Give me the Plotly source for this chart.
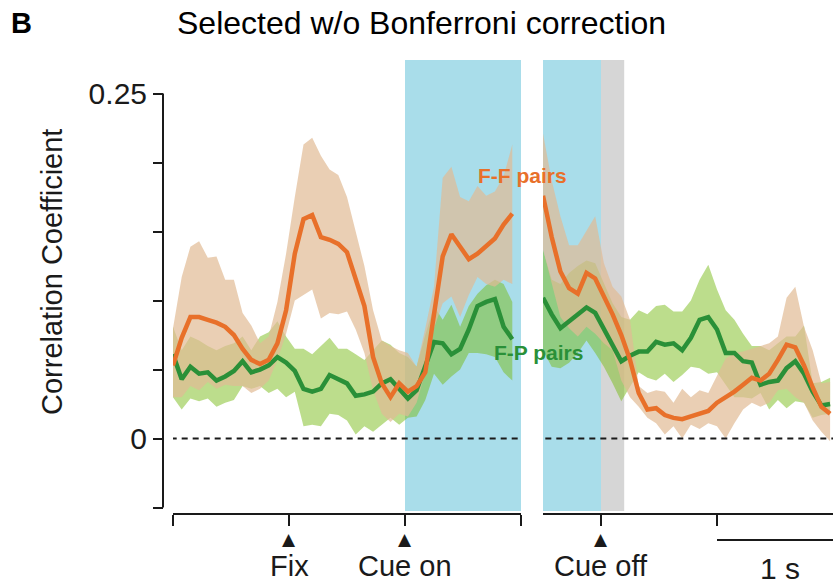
import plotly.graph_objects as go

W, H = 833, 586

# time bins (s) - left panel aligned to cue onset, right panel aligned to cue offset
t_left = [round(-1.0 + 0.0375 * i, 4) for i in range(40)]
t_right = [round(-0.25 + 0.0375 * i, 4) for i in range(34)]

# F-F pairs (orange), left panel
ff_left = [0.053, 0.073, 0.088, 0.088, 0.086, 0.084, 0.081, 0.075, 0.065, 0.057,
           0.054, 0.057, 0.069, 0.093, 0.134, 0.159, 0.162, 0.146, 0.144, 0.141,
           0.135, 0.115, 0.096, 0.059, 0.040, 0.030, 0.040, 0.034, 0.038, 0.048,
           0.091, 0.132, 0.148, 0.139, 0.130, 0.134, 0.139, 0.145, 0.155, 0.163]
ff_left_hi = [0.080, 0.117, 0.139, 0.143, 0.131, 0.132, 0.115, 0.115, 0.091, 0.082,
              0.069, 0.074, 0.099, 0.134, 0.175, 0.213, 0.218, 0.205, 0.195, 0.191,
              0.175, 0.151, 0.125, 0.093, 0.071, 0.067, 0.064, 0.062, 0.052, 0.080,
              0.110, 0.189, 0.197, 0.175, 0.172, 0.183, 0.176, 0.179, 0.190, 0.213]
ff_left_lo = [0.030, 0.030, 0.038, 0.035, 0.041, 0.036, 0.039, 0.038, 0.038, 0.033,
              0.036, 0.042, 0.057, 0.076, 0.100, 0.104, 0.108, 0.087, 0.091, 0.090,
              0.092, 0.079, 0.062, 0.035, 0.018, 0.012, 0.018, 0.016, 0.026, 0.048,
              0.080, 0.098, 0.103, 0.088, 0.104, 0.117, 0.112, 0.110, 0.115, 0.112]

# F-P pairs (green), left panel
fp_left = [0.061, 0.043, 0.052, 0.047, 0.048, 0.042, 0.045, 0.049, 0.056, 0.048,
           0.050, 0.053, 0.059, 0.055, 0.049, 0.036, 0.034, 0.036, 0.046, 0.043,
           0.040, 0.031, 0.032, 0.034, 0.040, 0.043, 0.036, 0.029, 0.035, 0.053,
           0.070, 0.069, 0.061, 0.065, 0.079, 0.096, 0.099, 0.101, 0.081, 0.072]
fp_left_hi = [0.081, 0.064, 0.074, 0.071, 0.067, 0.064, 0.067, 0.069, 0.074, 0.064,
              0.074, 0.077, 0.085, 0.074, 0.065, 0.065, 0.061, 0.067, 0.073, 0.065,
              0.065, 0.061, 0.057, 0.064, 0.071, 0.068, 0.062, 0.059, 0.052, 0.075,
              0.096, 0.086, 0.097, 0.081, 0.096, 0.105, 0.111, 0.115, 0.112, 0.099]
fp_left_lo = [0.030, 0.021, 0.029, 0.027, 0.029, 0.023, 0.026, 0.028, 0.038, 0.036,
              0.038, 0.033, 0.036, 0.030, 0.034, 0.009, 0.010, 0.009, 0.018, 0.017,
              0.013, 0.003, 0.009, 0.005, 0.010, 0.015, 0.010, 0.015, 0.016, 0.028,
              0.047, 0.039, 0.045, 0.050, 0.062, 0.062, 0.061, 0.059, 0.048, 0.042]

# F-F pairs (orange), right panel
ff_right = [0.176, 0.146, 0.121, 0.109, 0.105, 0.120, 0.116, 0.103, 0.090, 0.075,
            0.057, 0.033, 0.021, 0.022, 0.017, 0.015, 0.014, 0.016, 0.018, 0.020,
            0.026, 0.030, 0.034, 0.039, 0.044, 0.042, 0.047, 0.057, 0.068, 0.066,
            0.053, 0.037, 0.023, 0.018]
ff_right_hi = [0.221, 0.187, 0.161, 0.140, 0.140, 0.150, 0.161, 0.127, 0.110, 0.103,
               0.086, 0.038, 0.033, 0.035, 0.034, 0.026, 0.036, 0.030, 0.035, 0.033,
               0.045, 0.058, 0.062, 0.063, 0.065, 0.067, 0.069, 0.074, 0.102, 0.110,
               0.081, 0.064, 0.040, 0.041]
ff_right_lo = [0.137, 0.112, 0.088, 0.080, 0.074, 0.081, 0.076, 0.069, 0.064, 0.042,
               0.030, 0.023, 0.015, 0.011, 0.003, 0.009, 0.000, 0.010, 0.007, 0.011,
               0.009, 0.000, 0.011, 0.021, 0.026, 0.023, 0.026, 0.035, 0.036, 0.030,
               0.026, 0.013, 0.005, -0.002]

# F-P pairs (green), right panel
fp_right = [0.102, 0.090, 0.080, 0.085, 0.091, 0.095, 0.091, 0.079, 0.067, 0.056,
            0.060, 0.063, 0.063, 0.070, 0.068, 0.069, 0.064, 0.073, 0.086, 0.088,
            0.079, 0.062, 0.062, 0.056, 0.055, 0.039, 0.041, 0.042, 0.051, 0.056,
            0.047, 0.034, 0.024, 0.025]
fp_right_hi = [0.137, 0.115, 0.112, 0.120, 0.125, 0.129, 0.127, 0.112, 0.098, 0.088,
               0.086, 0.093, 0.090, 0.096, 0.097, 0.092, 0.092, 0.100, 0.115, 0.126,
               0.108, 0.093, 0.086, 0.076, 0.067, 0.067, 0.064, 0.069, 0.074, 0.074,
               0.082, 0.040, 0.041, 0.044]
fp_right_lo = [0.064, 0.052, 0.051, 0.055, 0.062, 0.071, 0.062, 0.052, 0.040, 0.027,
               0.038, 0.048, 0.044, 0.042, 0.047, 0.041, 0.046, 0.052, 0.051, 0.047,
               0.048, 0.039, 0.030, 0.030, 0.029, 0.033, 0.021, 0.028, 0.022, 0.027,
               0.026, 0.015, 0.017, 0.018]

y_ticks = [-0.05, 0, 0.05, 0.10, 0.15, 0.20, 0.25]
y_ticktext = ["", "0", "", "", "", "", "0.25"]

ORANGE = "#E8702A"
GREEN = "#2A9038"
TAN_FILL = "rgba(225,186,148,0.7)"
GREEN_FILL = "rgba(121,187,25,0.5)"
BLUE = "#A9DDEA"
GREY = "#D6D6D6"
INK = "#1a1a1a"
FONT = "Liberation Sans, Arial, sans-serif"


def px(x):
    return x / W


def py(y):
    return 1 - y / H


def band(x, lo, hi, color, xaxis):
    return go.Scatter(
        x=x + x[::-1], y=hi + lo[::-1], fill="toself", fillcolor=color,
        line=dict(width=0), mode="lines", hoverinfo="skip",
        showlegend=False, xaxis=xaxis, yaxis="y",
    )


def mean_line(x, y, color, xaxis):
    return go.Scatter(
        x=x, y=y, mode="lines", line=dict(color=color, width=4.5),
        showlegend=False, xaxis=xaxis, yaxis="y",
    )


def label(text, x, y, size, color=INK, xref="paper", **kw):
    return dict(text=text, x=x, y=y, xref=xref, yref="paper",
                xanchor="center", yanchor="middle", showarrow=False,
                font=dict(size=size, color=color, **kw))


fig = go.Figure()
for xs, ax, fp_lo, fp_hi, ff_lo, ff_hi, fp, ff in [
    (t_left, "x", fp_left_lo, fp_left_hi, ff_left_lo, ff_left_hi, fp_left, ff_left),
    (t_right, "x2", fp_right_lo, fp_right_hi, ff_right_lo, ff_right_hi, fp_right, ff_right),
]:
    fig.add_trace(band(xs, fp_lo, fp_hi, GREEN_FILL, ax))
    fig.add_trace(band(xs, ff_lo, ff_hi, TAN_FILL, ax))
    fig.add_trace(mean_line(xs, fp, GREEN, ax))
    fig.add_trace(mean_line(xs, ff, ORANGE, ax))

shapes = [
    # task epochs
    dict(type="rect", xref="x", yref="y domain", x0=0, x1=0.5, y0=0, y1=1,
         fillcolor=BLUE, line_width=0, layer="below"),
    dict(type="rect", xref="x2", yref="y domain", x0=-0.25, x1=0, y0=0, y1=1,
         fillcolor=BLUE, line_width=0, layer="below"),
    dict(type="rect", xref="x2", yref="y domain", x0=0, x1=0.1, y0=0, y1=1,
         fillcolor=GREY, line_width=0, layer="below"),
    # zero lines
    dict(type="line", xref="x", yref="y", x0=-1.01, x1=0.49, y0=0, y1=0,
         line=dict(color=INK, width=2, dash="6px,5px")),
    dict(type="line", xref="x2", yref="y", x0=-0.24, x1=1.0, y0=0, y1=0,
         line=dict(color=INK, width=2, dash="6px,5px")),
    # y axis spine
    dict(type="line", xref="paper", yref="y", x0=px(163), x1=px(163), y0=-0.05, y1=0.25,
         line=dict(color=INK, width=2)),
    # 1 s scale bar
    dict(type="line", xref="x2", yref="paper", x0=0.5, x1=1.0, y0=py(540), y1=py(540),
         line=dict(color=INK, width=2)),
]

annotations = [
    label("<b>B</b>", px(21), py(23), 29, color="black"),
    label("Selected w/o Bonferroni correction", px(421), py(23), 32, color="black"),
    label("Correlation Coefficient", px(52), py(272), 29),
    label("<b>F-F pairs</b>", px(522), py(175), 21, color=ORANGE),
    label("<b>F-P pairs</b>", px(538), py(352), 21, color=GREEN),
    label("1 s", px(780), py(568), 30),
]
annotations[2]["textangle"] = -90
for text, xv, ax in [("Fix", -0.5, "x"), ("Cue on", 0, "x"), ("Cue off", 0, "x2")]:
    annotations.append(label("▲", xv, py(539), 17, xref=ax, family="DejaVu Sans"))
    annotations.append(label(text, xv, py(566), 29, xref=ax))

x_common = dict(
    anchor="free", position=py(514), showline=True, linecolor=INK, linewidth=2,
    ticks="outside", ticklen=11, tickwidth=2, tickcolor=INK,
    showticklabels=False, showgrid=False, zeroline=False,
)

fig.update_layout(
    width=W, height=H,
    margin=dict(l=0, r=0, t=0, b=0),
    paper_bgcolor="white", plot_bgcolor="rgba(0,0,0,0)",
    font=dict(family=FONT, color=INK),
    xaxis=dict(domain=[px(173), px(521)], range=[-1.0, 0.5],
               tickvals=[-1, -0.5, 0, 0.5], **x_common),
    xaxis2=dict(domain=[px(543), 1.0], range=[-0.25, 1.0],
                tickvals=[0, 0.5], **x_common),
    yaxis=dict(domain=[py(511), py(60)], range=[-0.0525, 0.2743],
               anchor="free", position=px(163),
               tickvals=y_ticks, ticktext=y_ticktext, ticks="outside",
               ticklen=10, tickwidth=2, tickcolor=INK,
               tickfont=dict(size=30, color=INK),
               showline=False, showgrid=False, zeroline=False),
    shapes=shapes,
    annotations=annotations,
    showlegend=False,
)

# drop the default 8px body margin so the figure sits flush in the window
fig.write_html("out.html", config={"displayModeBar": False},
               post_script="document.body.style.margin='0px';")
